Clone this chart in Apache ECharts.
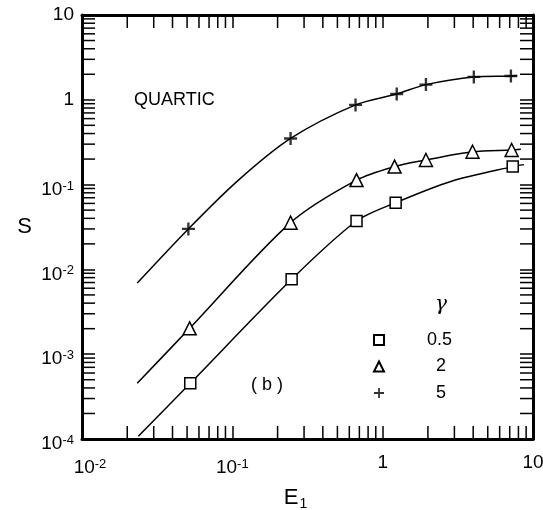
<!DOCTYPE html>
<html>
<head>
<meta charset="utf-8">
<script src="https://cdn.jsdelivr.net/npm/echarts@6/dist/echarts.min.js"></script>
<style>
html,body{margin:0;padding:0;background:#fff;}
#chart{width:543px;height:510px;}
</style>
</head>
<body>
<div id="chart"></div>
<script>
// ---- data (E1, S) ----
const gamma05Points = [[0.0525,4.54e-4],[0.248,0.00764],[0.67,0.0372],[1.22,0.0612],[7.33,0.163]];
const gamma2Points  = [[0.052,0.00202],[0.244,0.0356],[0.67,0.113],[1.2,0.163],[1.94,0.195],[3.96,0.244],[7.21,0.256]];
const gamma5Points  = [[0.051,0.030],[0.244,0.35],[0.66,0.87],[1.24,1.17],[1.94,1.51],[4.04,1.86],[7.13,1.91]];

const gamma05Curve = [[0.0237,1.08e-4],[0.0525,4.54e-4],[0.248,0.00764],[0.67,0.0372],[1.22,0.0612],[2.84,0.109],[7.33,0.163],[8.7,0.172]];
const gamma2Curve  = [[0.0233,4.54e-4],[0.052,0.00202],[0.244,0.0356],[0.67,0.113],[1.2,0.163],[1.94,0.195],[3.96,0.244],[7.21,0.256],[8.3,0.261]];
const gamma5Curve  = [[0.0233,0.0069],[0.051,0.030],[0.108,0.110],[0.244,0.35],[0.66,0.87],[1.24,1.17],[1.94,1.51],[4.04,1.86],[7.13,1.91],[7.82,1.94]];

const legendNames = ['0.5','2','5'];
const xRange = [0.01, 10];
const yRange = [1e-4, 10];
const xMinorTicks = [0.02,0.03,0.04,0.05,0.06,0.07,0.08,0.09,0.2,0.3,0.4,0.5,0.6,0.7,0.8,0.9,2,3,4,5,6,7,8,9];
const yMinorTicks = [2e-4,3e-4,4e-4,5e-4,6e-4,7e-4,8e-4,9e-4,0.002,0.003,0.004,0.005,0.006,0.007,0.008,0.009,
                     0.02,0.03,0.04,0.05,0.06,0.07,0.08,0.09,0.2,0.3,0.4,0.5,0.6,0.7,0.8,0.9,2,3,4,5,6,7,8,9];

const FONT = 'Liberation Sans';
const TICK = 13;

function powLabel(v, first) {
  const e = Math.round(Math.log10(v));
  if (e === 1) return '{b|10}';
  if (e === 0) return '{b|1}';
  return (first ? '{bp|10}' : '{b2|10}') + '{s|' + e + '}';
}
const richStyle = {
  b: {fontFamily: FONT, fontSize: 19, color: '#000', lineHeight: 26},
  b2: {fontFamily: FONT, fontSize: 19, color: '#000', lineHeight: 26, padding: [10,0,0,0]},
  bp: {fontFamily: FONT, fontSize: 19, color: '#000', lineHeight: 26, padding: [10,0,0,16]},
  s: {fontFamily: FONT, fontSize: 13, color: '#000', lineHeight: 14, verticalAlign: 'top', padding: [8,0,0,0]}
};

const chart = echarts.init(document.getElementById('chart'), null, {renderer: 'canvas'});

const axisLineStyle = {show: true, lineStyle: {color: '#000', width: 3}};
const tickStyle = {show: true, inside: true, length: TICK, lineStyle: {color: '#000', width: 1.5}};

const plusPath = 'path://M4.1,0h1.8v4.1h4.1v1.8h-4.1v4.1h-1.8v-4.1h-4.1v-1.8h4.1z';

function lineSeries(data) {
  return {
    type: 'line', data: data, smooth: 0.3, showSymbol: false, symbol: 'none',
    lineStyle: {color: '#000', width: 1.5}, silent: true, z: 2, xAxisIndex: 0, yAxisIndex: 0
  };
}
function markerSeries(name, data, symbol, size) {
  return {
    type: 'scatter', name: name, data: data, symbol: symbol, symbolSize: size,
    itemStyle: symbol === plusPath ? {color: '#000', borderWidth: 0}
                                   : {color: '#fff', borderColor: '#000', borderWidth: 1.5, opacity: 1},
    z: 5, xAxisIndex: 0, yAxisIndex: 0
  };
}

const option = {
  animation: false,
  backgroundColor: '#fff',
  grid: {left: 82, right: 10, top: 15, bottom: 71, containLabel: false, outerBoundsMode: 'none'},
  xAxis: [
    {type: 'log', logBase: 10, min: xRange[0], max: xRange[1], interval: 1, position: 'bottom',
     axisLine: axisLineStyle, axisTick: tickStyle, splitLine: {show: false},
     axisLabel: {margin: 11, formatter: function (v) { return powLabel(v, Math.abs(v - 0.01) < 1e-9); }, rich: richStyle,
                 showMinLabel: true, showMaxLabel: true},
     name: '{e|E}{u|1}', nameLocation: 'middle', nameGap: 46,
     nameTextStyle: {padding: [0, 24, 0, 0], rich: {
       e: {fontFamily: FONT, fontSize: 22, color: '#000', lineHeight: 26},
       u: {fontFamily: FONT, fontSize: 14, color: '#000', lineHeight: 26, verticalAlign: 'bottom', padding: [10,0,0,1]}
     }}},
    {type: 'log', logBase: 10, min: xRange[0], max: xRange[1], interval: 1, position: 'top',
     axisLine: axisLineStyle, axisTick: tickStyle, axisLabel: {show: false}, splitLine: {show: false}}
  ],
  yAxis: [
    {type: 'log', logBase: 10, min: yRange[0], max: yRange[1], interval: 1, position: 'left',
     axisLine: axisLineStyle, axisTick: tickStyle, splitLine: {show: false},
     axisLabel: {margin: 8, formatter: function (v) { return powLabel(v, false); }, rich: richStyle,
                 showMinLabel: true, showMaxLabel: true},
     name: 'S', nameLocation: 'middle', nameGap: 50, nameRotate: 0,
     nameTextStyle: {fontFamily: FONT, fontSize: 22, color: '#000', padding: [0, 0, 30, 0]}},
    {type: 'log', logBase: 10, min: yRange[0], max: yRange[1], interval: 1, position: 'right',
     axisLine: axisLineStyle, axisTick: tickStyle, axisLabel: {show: false}, splitLine: {show: false}}
  ],
  legend: {
    data: legendNames, orient: 'vertical', left: 368, top: 325,
    itemWidth: 10, itemHeight: 10, itemGap: 6.5,
    selectedMode: false,
    formatter: function (name) { return name === '0.5' ? '{a|0.5}' : '{c|' + name + '}'; },
    textStyle: {fontFamily: FONT, fontSize: 18, color: '#000', lineHeight: 20,
      rich: {
        a: {fontFamily: FONT, fontSize: 18, color: '#000', lineHeight: 20, padding: [0, 0, 0, 38]},
        c: {fontFamily: FONT, fontSize: 18, color: '#000', lineHeight: 20, padding: [0, 0, 0, 47]}
      }}
  },
  graphic: [
    {type: 'text', left: 134, top: 91, style: {text: 'QUARTIC', font: '18px "Liberation Sans"', fill: '#000'}},
    {type: 'text', left: 251, top: 376, style: {text: '( b )', font: '18px "Liberation Sans"', fill: '#000'}},
    {type: 'text', left: 435, top: 295, style: {text: 'γ', font: 'italic 20px "DejaVu Serif"', fill: '#000'}}
  ],
  series: [
    lineSeries(gamma05Curve),
    lineSeries(gamma2Curve),
    lineSeries(gamma5Curve),
    markerSeries('0.5', gamma05Points, 'rect', 11),
    markerSeries('2', gamma2Points, 'triangle', 13),
    markerSeries('5', gamma5Points, plusPath, 13),
    {
      type: 'custom', silent: true, clip: false, z: 3, xAxisIndex: 0, yAxisIndex: 0,
      data: xMinorTicks.map(function (v) { return [v, yRange[0]]; }),
      renderItem: function (params, api) {
        const v = api.value(0);
        const pb = api.coord([v, yRange[0]]);
        const pt = api.coord([v, yRange[1]]);
        const st = {stroke: '#000', lineWidth: 1.5};
        return {type: 'group', children: [
          {type: 'line', shape: {x1: pb[0], y1: pb[1], x2: pb[0], y2: pb[1] - TICK}, style: st},
          {type: 'line', shape: {x1: pt[0], y1: pt[1], x2: pt[0], y2: pt[1] + TICK}, style: st}
        ]};
      }
    },
    {
      type: 'custom', silent: true, clip: false, z: 3, xAxisIndex: 0, yAxisIndex: 0,
      data: yMinorTicks.map(function (v) { return [xRange[0], v]; }),
      renderItem: function (params, api) {
        const v = api.value(1);
        const pl = api.coord([xRange[0], v]);
        const pr = api.coord([xRange[1], v]);
        const st = {stroke: '#000', lineWidth: 1.5};
        return {type: 'group', children: [
          {type: 'line', shape: {x1: pl[0], y1: pl[1], x2: pl[0] + TICK, y2: pl[1]}, style: st},
          {type: 'line', shape: {x1: pr[0], y1: pr[1], x2: pr[0] - TICK, y2: pr[1]}, style: st}
        ]};
      }
    }
  ]
};
chart.setOption(option);
</script>
</body>
</html>
